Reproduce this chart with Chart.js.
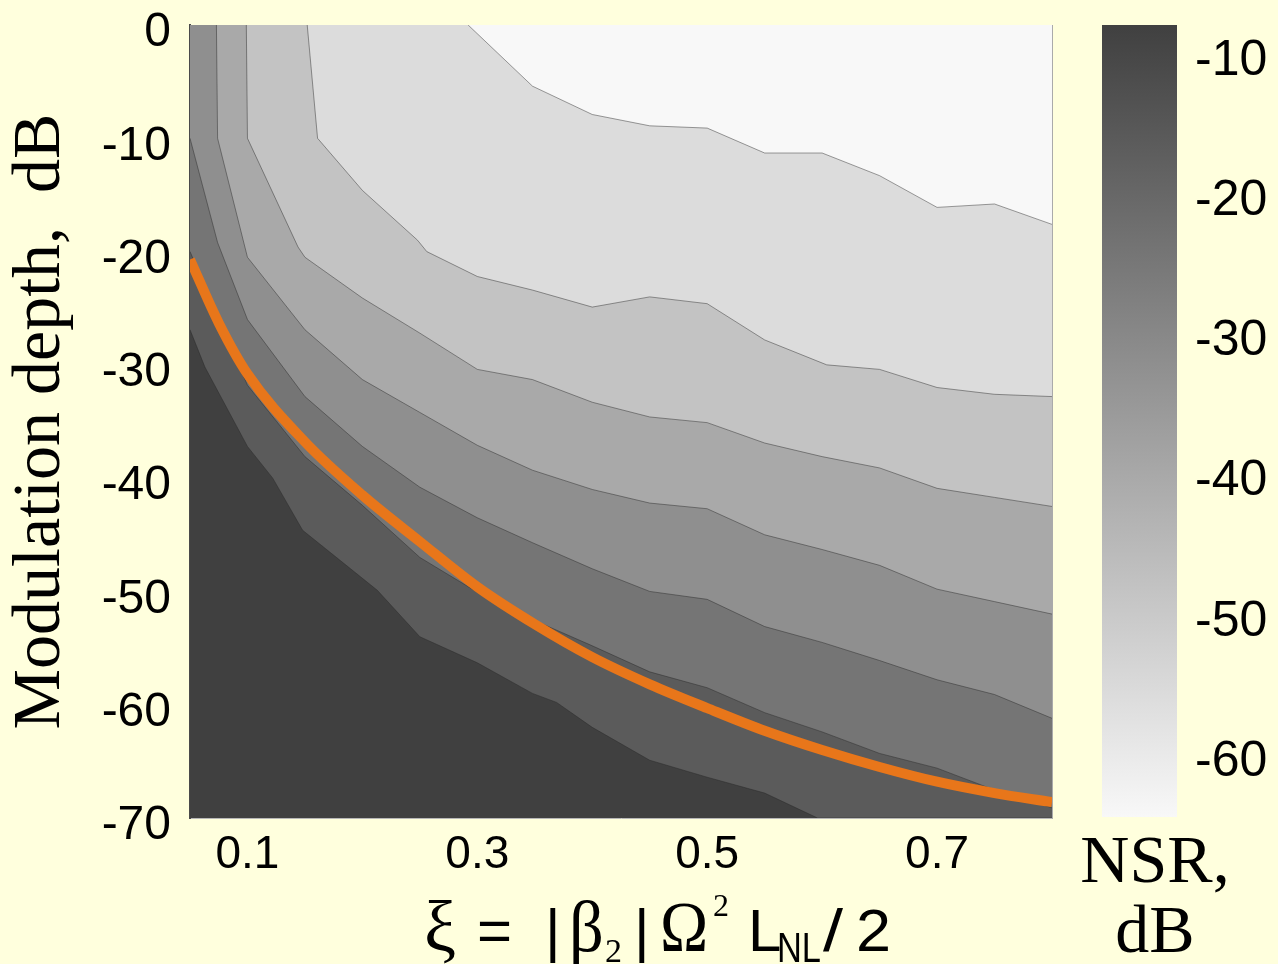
<!DOCTYPE html>
<html>
<head>
<meta charset="utf-8">
<title>NSR contour map</title>
<script src="https://cdn.jsdelivr.net/npm/chart.js@4.4.1/dist/chart.umd.min.js"></script>
<style>
  html, body { margin: 0; padding: 0; background: #FFFFDD; }
  #wrap { position: relative; width: 1278px; height: 964px; overflow: hidden; }
  #main { position: absolute; left: 0; top: 0; }
  #bar { position: absolute; left: 1032px; top: 0; }
</style>
</head>
<body>
<div id="wrap">
  <canvas id="main" width="1278" height="964"></canvas>
  <canvas id="bar" width="246" height="964"></canvas>
</div>
<script>
// --- data ---
const xTicks = [0.1, 0.3, 0.5, 0.7];
const yTicks = [0, -10, -20, -30, -40, -50, -60, -70];
const nsrTicks = [-10, -20, -30, -40, -50, -60];
const nsrRange = [-64.5, -8];

// gray levels, darkest (bottom-left) to lightest (top-right)
const bandColors = ["#404040", "#5B5B5B", "#757575", "#8F8F8F", "#A9A9A9", "#C3C3C3", "#DCDCDC", "#F8F8F8"];

// contour boundaries as [xi, depth dB], darkest boundary first
const contour1 = [[0.05,-26.9],[0.063,-30.2],[0.1,-37.2],[0.122,-40.0],[0.148,-44.6],[0.213,-49.9],[0.25,-54.0],[0.3,-56.3],[0.348,-59.0],[0.369,-59.8],[0.4,-62.0],[0.45,-64.9],[0.5,-66.4],[0.55,-67.8],[0.596,-70],[0.8,-70]];
const contour2 = [[0.05,-20.0],[0.087,-28.7],[0.1,-31.8],[0.15,-38.1],[0.2,-42.4],[0.25,-47.0],[0.294,-49.7],[0.355,-52.8],[0.4,-54.8],[0.45,-57.1],[0.5,-58.5],[0.55,-60.7],[0.6,-62.4],[0.65,-64.3],[0.7,-65.6],[0.744,-67.3],[0.8,-69.1]];
const contour3 = [[0.05,-10.0],[0.074,-19.2],[0.1,-26.0],[0.15,-32.8],[0.2,-37.2],[0.25,-40.8],[0.3,-43.5],[0.348,-45.7],[0.4,-48.0],[0.45,-50.0],[0.5,-50.7],[0.55,-53.1],[0.6,-54.5],[0.65,-56.1],[0.7,-57.8],[0.75,-59.1],[0.8,-61.2]];
const contour4 = [[0.073,0],[0.074,-10.0],[0.1,-20.5],[0.15,-26.9],[0.2,-31.3],[0.25,-34.2],[0.3,-37.1],[0.348,-39.3],[0.4,-41.0],[0.45,-42.2],[0.5,-42.7],[0.55,-45.0],[0.6,-46.3],[0.65,-47.7],[0.7,-49.8],[0.75,-50.9],[0.8,-52.0]];
const contour5 = [[0.099,0],[0.1,-10.0],[0.144,-19.6],[0.15,-20.5],[0.2,-24.1],[0.25,-27.2],[0.3,-30.4],[0.348,-31.3],[0.4,-33.3],[0.45,-34.6],[0.5,-35.1],[0.55,-36.9],[0.6,-38.1],[0.65,-39.1],[0.7,-40.9],[0.75,-41.7],[0.8,-42.5]];
const contour6 = [[0.152,0],[0.161,-10.0],[0.2,-14.6],[0.248,-19.0],[0.256,-20.0],[0.3,-22.2],[0.348,-23.4],[0.4,-24.9],[0.45,-24.0],[0.5,-24.6],[0.55,-27.8],[0.604,-30.0],[0.65,-30.4],[0.7,-32.0],[0.75,-32.6],[0.8,-32.8]];
const contour7 = [[0.292,0],[0.348,-5.4],[0.4,-7.9],[0.45,-8.9],[0.5,-9.1],[0.55,-11.3],[0.6,-11.3],[0.65,-13.3],[0.7,-16.1],[0.75,-15.8],[0.8,-17.6]];

// orange curve
const curveXi = [0.05, 0.075, 0.1, 0.15, 0.2, 0.25, 0.3, 0.35, 0.4, 0.45, 0.5, 0.55, 0.6, 0.65, 0.7, 0.75, 0.8];
const curveDepth = [-20.7, -26.3, -30.8, -36.8, -41.5, -45.6, -49.6, -52.9, -55.8, -58.2, -60.3, -62.3, -64.0, -65.5, -66.8, -67.8, -68.6];

// --- main contour chart ---
const contours = [contour1, contour2, contour3, contour4, contour5, contour6, contour7];

const datasets = contours.map(function (pts, i) {
  return {
    data: pts.map(function (p) { return { x: p[0], y: p[1] }; }),
    fill: "end",
    backgroundColor: bandColors[i + 1],
    borderColor: "rgba(40,40,40,0.45)",
    borderWidth: 1,
    pointRadius: 0,
    tension: 0,
    order: 10 - i, // darker bands go underneath
  };
});

datasets.push({
  data: curveXi.map(function (x, i) { return { x: x, y: curveDepth[i] }; }),
  fill: false,
  borderColor: "#E8761A",
  borderWidth: 10,
  pointRadius: 0,
  cubicInterpolationMode: "monotone",
  order: 0,
});

// dark background for the lowest band
const areaBackground = {
  id: "areaBackground",
  beforeDatasetsDraw: function (chart) {
    const a = chart.chartArea;
    const ctx = chart.ctx;
    ctx.save();
    ctx.fillStyle = bandColors[0];
    ctx.fillRect(a.left, a.top, a.right - a.left, a.bottom - a.top);
    ctx.restore();
  },
};

// x axis title with sub/superscripts
const xiTitle = {
  id: "xiTitle",
  afterDraw: function (chart) {
    const ctx = chart.ctx;
    const serif = "'Liberation Serif', serif";
    const sans = "'Liberation Sans', Arial, sans-serif";
    const parts = [
      { t: "\u03BE", f: "72px " + serif, x: 424, y: 951, sx: 1 },
      { t: "=", f: "60px " + sans, x: 477, y: 951, sx: 1 },
      { t: "|", f: "60px " + sans, x: 545, y: 951, sx: 1 },
      { t: "\u03B2", f: "72px " + serif, x: 569, y: 951, sx: 0.95 },
      { t: "2", f: "34px " + serif, x: 605, y: 962, sx: 1 },
      { t: "|", f: "60px " + sans, x: 634, y: 951, sx: 1 },
      { t: "\u03A9", f: "72px " + serif, x: 660, y: 951, sx: 0.9 },
      { t: "2", f: "32px " + serif, x: 713, y: 916, sx: 1 },
      { t: "L", f: "60px " + sans, x: 748, y: 951, sx: 1 },
      { t: "NL", f: "42px " + sans, x: 777, y: 962, sx: 0.82 },
      { t: "/", f: "60px " + sans, x: 823, y: 951, sx: 1.2 },
      { t: "2", f: "60px " + sans, x: 856, y: 951, sx: 1.05 },
    ];
    ctx.save();
    ctx.fillStyle = "#000";
    ctx.textAlign = "left";
    ctx.textBaseline = "alphabetic";
    parts.forEach(function (p) {
      ctx.save();
      ctx.font = p.f;
      ctx.translate(p.x, p.y);
      ctx.scale(p.sx, 1);
      ctx.fillText(p.t, 0, 0);
      ctx.restore();
    });
    ctx.restore();
  },
};

new Chart(document.getElementById("main"), {
  type: "line",
  data: { datasets: datasets },
  plugins: [areaBackground, xiTitle],
  options: {
    responsive: false,
    animation: false,
    layout: { padding: { top: 25, right: 226, left: 0, bottom: 0 } },
    plugins: { legend: { display: false }, tooltip: { enabled: false } },
    scales: {
      x: {
        type: "linear",
        min: 0.05,
        max: 0.8,
        z: 1,
        grid: { display: false, drawTicks: false },
        border: { display: true, color: "#B8B8B8", width: 1 },
        afterBuildTicks: function (s) { s.ticks = xTicks.map(function (v) { return { value: v }; }); },
        afterFit: function (s) { s.height = 146; s.paddingLeft = 0; s.paddingRight = 0; },
        ticks: {
          autoSkip: false,
          maxRotation: 0,
          padding: 10,
          color: "#000",
          font: { family: "'Liberation Sans', Arial, sans-serif", size: 46 },
          callback: function (v) { return v.toFixed(1); },
        },
      },
      y: {
        min: -70,
        max: 0,
        z: 1,
        grid: { display: false, drawTicks: false },
        border: { display: true, color: "#4A4A4A", width: 2 },
        afterBuildTicks: function (s) { s.ticks = yTicks.map(function (v) { return { value: v }; }); },
        afterFit: function (s) { s.width = 190; s.paddingTop = 0; s.paddingBottom = 0; },
        ticks: {
          autoSkip: false,
          padding: 19,
          labelOffset: 8,
          color: "#000",
          font: { family: "'Liberation Sans', Arial, sans-serif", size: 48 },
        },
        title: {
          display: true,
          text: "Modulation depth,  dB",
          color: "#000",
          padding: 0,
          font: { family: "'Liberation Serif', serif", size: 68 },
        },
      },
      yRight: {
        position: "right",
        min: -70,
        max: 0,
        z: 1,
        grid: { display: false, drawTicks: false },
        border: { display: true, color: "#AAAAAA", width: 1 },
        ticks: { display: false },
        afterFit: function (s) { s.width = 0; s.paddingTop = 0; s.paddingBottom = 0; },
      },
    },
  },
});

// --- colour bar ---
const nsrLabel = {
  id: "nsrLabel",
  afterDraw: function (chart) {
    const ctx = chart.ctx;
    ctx.save();
    ctx.fillStyle = "#000";
    ctx.textAlign = "center";
    ctx.textBaseline = "alphabetic";
    ctx.font = "68px 'Liberation Serif', serif";
    ctx.fillText("NSR,", 123, 882);
    ctx.fillText("dB", 123, 952);
    ctx.restore();
  },
};

new Chart(document.getElementById("bar"), {
  type: "bar",
  data: {
    labels: ["NSR"],
    datasets: [
      {
        data: [nsrRange],
        borderWidth: 0,
        barPercentage: 1,
        categoryPercentage: 1,
        backgroundColor: function (context) {
          const a = context.chart.chartArea;
          if (!a) return bandColors[4];
          const g = context.chart.ctx.createLinearGradient(0, a.bottom, 0, a.top);
          g.addColorStop(0, "#F8F8F8");
          g.addColorStop(1, "#404040");
          return g;
        },
      },
    ],
  },
  plugins: [nsrLabel],
  options: {
    responsive: false,
    animation: false,
    layout: { padding: { top: 25, left: 70, right: 0, bottom: 147 } },
    plugins: { legend: { display: false }, tooltip: { enabled: false } },
    scales: {
      x: { display: false },
      y: {
        position: "right",
        min: nsrRange[0],
        max: nsrRange[1],
        grid: { display: false, drawTicks: false },
        border: { display: false },
        afterBuildTicks: function (s) { s.ticks = nsrTicks.map(function (v) { return { value: v }; }); },
        afterFit: function (s) { s.width = 101; s.paddingTop = 0; s.paddingBottom = 0; },
        ticks: {
          autoSkip: false,
          padding: 18,
          labelOffset: 8,
          color: "#000",
          font: { family: "'Liberation Sans', Arial, sans-serif", size: 50 },
        },
      },
    },
  },
});
</script>
</body>
</html>
